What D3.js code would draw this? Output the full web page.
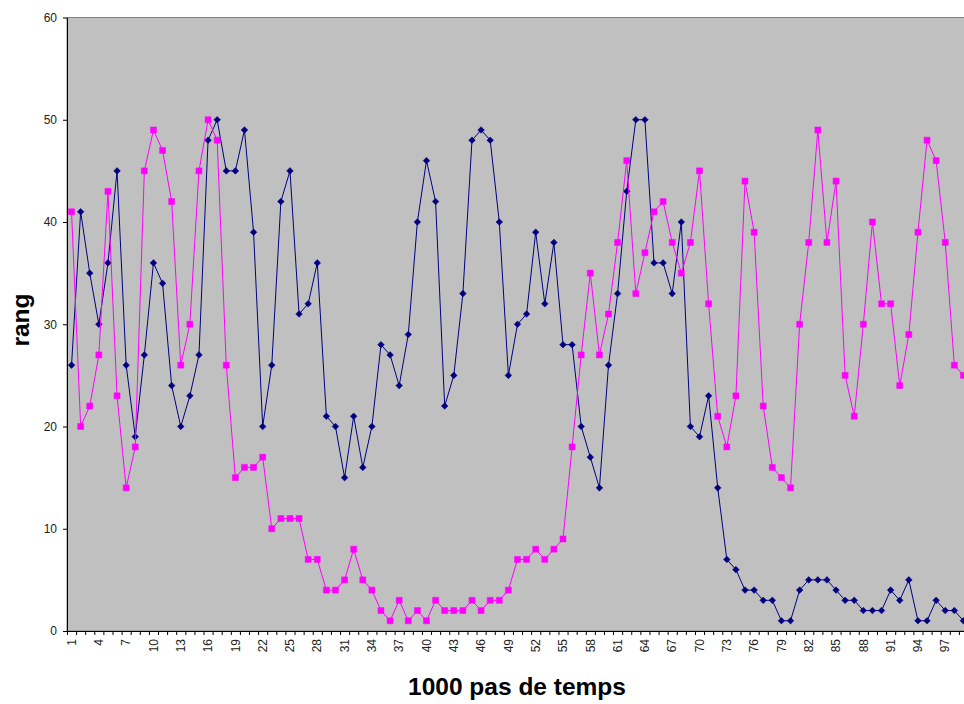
<!DOCTYPE html>
<html>
<head>
<meta charset="utf-8">
<script src="https://cdn.jsdelivr.net/npm/d3@7"></script>
<style>
  html, body { margin: 0; padding: 0; background: #fff; }
  svg { display: block; }
  text { font-family: "Liberation Sans", Arial, sans-serif; }
</style>
</head>
<body>
<svg id="chart" width="964" height="704"></svg>
<script>
// ---- data ----
const categories = d3.range(1, 100); // 1..99 (1000 pas de temps)
const seriesNavy = [26,41,35,30,36,45,26,19,27,36,34,24,20,23,27,48,50,45,45,49,
  39,20,26,42,45,31,32,36,21,20,15,21,16,20,28,27,24,29,40,46,
  42,22,25,33,48,49,48,40,25,30,31,39,32,38,28,28,20,17,14,26,
  33,43,50,50,36,36,33,40,20,19,23,14,7,6,4,4,3,3,1,1,
  4,5,5,5,4,3,3,2,2,2,4,3,5,1,1,3,2,2,1];
const seriesMagenta = [41,20,22,27,43,23,14,18,45,49,47,42,26,30,45,50,48,26,15,16,
  16,17,10,11,11,11,7,7,4,4,5,8,5,4,2,1,3,1,2,1,
  3,2,2,2,3,2,3,3,4,7,7,8,7,8,9,18,27,35,27,31,
  38,46,33,37,41,42,38,35,38,45,32,21,18,23,44,39,22,16,15,14,
  30,38,49,38,44,25,21,30,40,32,32,24,29,39,48,46,38,26,25];
const yTicks = [0, 10, 20, 30, 40, 50, 60];
const xLabelStep = 3;
const yTitle = "rang";
const xTitle = "1000 pas de temps";

// ---- layout ----
const svg = d3.select("#chart");
const pLeft = 67, pRight = 968, pTop = 17.5, pBottom = 631;

const x = d3.scaleBand().domain(categories).range([pLeft, pRight]).padding(0);
const xEdge = d3.scaleLinear().domain([0, categories.length]).range([pLeft, pRight]);
const y = d3.scaleLinear().domain([0, 60]).range([pBottom, pTop]);

// plot area
svg.append("rect")
  .attr("x", pLeft).attr("y", pTop)
  .attr("width", pRight - pLeft).attr("height", pBottom - pTop)
  .attr("fill", "#C0C0C0")
  .attr("stroke", "#808080").attr("stroke-width", 1);

// y axis
const yAxis = svg.append("g")
  .attr("transform", `translate(${pLeft},0)`)
  .call(d3.axisLeft(y).tickValues(yTicks).tickSize(4).tickPadding(6).tickSizeOuter(0));
yAxis.select(".domain").attr("stroke", "#000");
yAxis.selectAll(".tick line").attr("stroke", "#000");
yAxis.selectAll("text").attr("font-size", 12).attr("fill", "#222")
  .style("font-family", "'Liberation Sans', Arial, sans-serif");

// x axis: boundary tick marks
const xTickAxis = svg.append("g")
  .attr("transform", `translate(0,${pBottom})`)
  .call(d3.axisBottom(xEdge).tickValues(d3.range(0, categories.length + 1))
    .tickFormat("").tickSize(4).tickSizeOuter(0));
xTickAxis.select(".domain").attr("stroke", "#000");
xTickAxis.selectAll(".tick line").attr("stroke", "#000");

// x axis: labels (every 3rd category)
const xLabelAxis = svg.append("g")
  .attr("transform", `translate(0,${pBottom})`)
  .call(d3.axisBottom(x)
    .tickValues(categories.filter((d, i) => i % xLabelStep === 0))
    .tickSize(0));
xLabelAxis.select(".domain").remove();
xLabelAxis.selectAll("text")
  .attr("transform", "rotate(-90)")
  .attr("x", -8).attr("y", 0).attr("dy", "0.35em")
  .attr("text-anchor", "end")
  .attr("font-size", 12).attr("fill", "#222")
  .style("font-family", "'Liberation Sans', Arial, sans-serif");

// series
const cx = d => x(d) + x.bandwidth() / 2;
const line = d3.line().x((d, i) => cx(categories[i])).y(d => y(d));

function drawSeries(values, color, symbolType, size, rot) {
  svg.append("path")
    .datum(values)
    .attr("fill", "none")
    .attr("stroke", color)
    .attr("stroke-width", 1)
    .attr("d", line);
  svg.append("g").selectAll("path")
    .data(values)
    .join("path")
    .attr("d", d3.symbol().type(symbolType).size(size))
    .attr("transform", (d, i) => `translate(${cx(categories[i])},${y(d)}) rotate(${rot})`)
    .attr("fill", color)
    .attr("stroke", color)
    .attr("stroke-width", 0.5);
}
drawSeries(seriesNavy, "#000080", d3.symbolSquare, 22, 45);
drawSeries(seriesMagenta, "#FF00FF", d3.symbolSquare, 36, 0);

// titles
svg.append("text")
  .attr("transform", `translate(29,320) rotate(-90)`)
  .attr("text-anchor", "middle")
  .attr("font-size", 24.5).attr("font-weight", "bold").attr("fill", "#000")
  .text(yTitle);
svg.append("text")
  .attr("x", 517).attr("y", 695)
  .attr("text-anchor", "middle")
  .attr("font-size", 24.5).attr("font-weight", "bold").attr("fill", "#000")
  .text(xTitle);
</script>
</body>
</html>
